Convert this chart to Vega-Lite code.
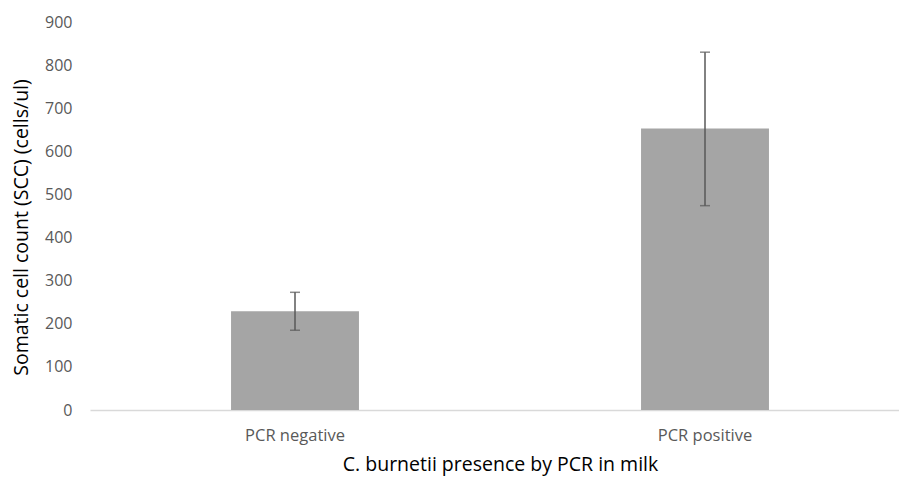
{
  "$schema": "https://vega.github.io/schema/vega-lite/v6.json",
  "autosize": "none",
  "width": 809,
  "height": 388,
  "padding": {"left": 90, "top": 22, "right": 0, "bottom": 71},
  "background": "white",
  "config": {
    "view": {"stroke": null},
    "font": "Open Sans"
  },
  "data": {
    "values": [
      {"group": "PCR negative", "scc": 229, "lower": 185, "upper": 273},
      {"group": "PCR positive", "scc": 653, "lower": 474, "upper": 830}
    ]
  },
  "encoding": {
    "x": {
      "field": "group",
      "type": "nominal",
      "sort": null,
      "scale": {"range": [0, 820], "paddingInner": 0, "paddingOuter": 0},
      "axis": {
        "title": "C. burnetii presence by PCR in milk",
        "labelAngle": 0,
        "labelFontSize": 16.5,
        "labelColor": "#595959",
        "labelPadding": 17,
        "ticks": false,
        "domainColor": "#d9d9d9",
        "domainWidth": 1.5,
        "titleFontSize": 19.5,
        "titleFontWeight": "normal",
        "titleColor": "#000000",
        "titlePadding": 12
      }
    }
  },
  "layer": [
    {
      "mark": {"type": "bar", "color": "#a5a5a5", "width": {"band": 0.312}},
      "encoding": {
        "y": {
          "field": "scc",
          "type": "quantitative",
          "scale": {"domain": [0, 900], "nice": false},
          "axis": {
            "title": "Somatic cell count (SCC) (cells/ul)",
            "values": [0, 100, 200, 300, 400, 500, 600, 700, 800, 900],
            "grid": false,
            "domain": false,
            "ticks": false,
            "labelFontSize": 16,
            "labelColor": "#595959",
            "labelPadding": 18,
            "titleFontSize": 19.5,
            "titleFontWeight": "normal",
            "titleColor": "#000000",
            "titlePadding": 13,
            "titleY": 205
          }
        }
      }
    },
    {
      "mark": {"type": "rule", "color": "#595959", "strokeWidth": 1.5},
      "encoding": {
        "y": {"field": "lower", "type": "quantitative"},
        "y2": {"field": "upper"}
      }
    },
    {
      "mark": {"type": "tick", "color": "#595959", "size": 10, "thickness": 1.5, "orient": "horizontal"},
      "encoding": {
        "y": {"field": "lower", "type": "quantitative"}
      }
    },
    {
      "mark": {"type": "tick", "color": "#595959", "size": 10, "thickness": 1.5, "orient": "horizontal"},
      "encoding": {
        "y": {"field": "upper", "type": "quantitative"}
      }
    }
  ]
}
